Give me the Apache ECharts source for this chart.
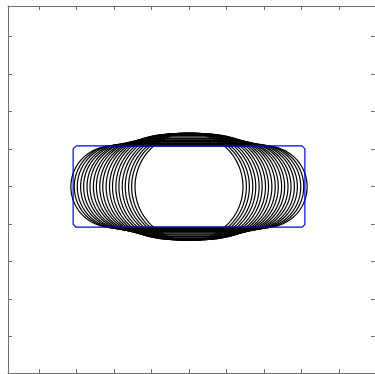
<!DOCTYPE html>
<html>
<head>
<meta charset="utf-8">
<script src="https://cdn.jsdelivr.net/npm/echarts@6/dist/echarts.min.js"></script>
<style>
  html, body { margin: 0; padding: 0; background: #fff; }
  #chart { width: 375px; height: 374px; }
</style>
</head>
<body>
<div id="chart"></div>
<script>
// outer half-width and half-height of each black curve (axis units)
const halfWidths = [1.44, 1.53, 1.61, 1.70, 1.78, 1.87, 1.95, 2.04, 2.12, 2.21, 2.30,
                    2.38, 2.47, 2.55, 2.64, 2.72, 2.81, 2.89, 2.98, 3.06, 3.15];
const halfHeights = [1.43, 1.43, 1.425, 1.42, 1.415, 1.41, 1.40, 1.385, 1.365, 1.33, 1.29,
                     1.265, 1.235, 1.21, 1.19, 1.165, 1.15, 1.135, 1.12, 1.105, 1.08];

// blue outline (chamfered rectangle)
const blueX = [-3.01, 3.01, 3.09, 3.09, 3.01, -3.01, -3.09, -3.09, -3.01];
const blueY = [1.09, 1.09, 1.01, -1.01, -1.08, -1.08, -1.00, 1.01, 1.09];

// tick positions
const xTicks = [-4, -3, -2, -1, 0, 1, 2, 3, 4];
const yTicks = [-4, -3, -2, -1, 0, 1, 2, 3, 4];

// stadium shaped curve: flat part plus round ends
function curvePoints(w, h) {
  const flat = w - h;
  const pts = [];
  const n = 60;
  for (let i = 0; i <= n; i++) {
    const a = -Math.PI / 2 + Math.PI * i / n;
    pts.push([flat + h * Math.cos(a), h * Math.sin(a)]);
  }
  for (let i = 0; i <= n; i++) {
    const a = Math.PI / 2 + Math.PI * i / n;
    pts.push([-flat + h * Math.cos(a), h * Math.sin(a)]);
  }
  pts.push(pts[0]);
  return pts;
}

const chart = echarts.init(document.getElementById("chart"));

const axisColor = "#6e6e6e";
const tickBase = {
  show: true, inside: true, length: 4,
  lineStyle: { color: axisColor, width: 1 }
};

const series = halfWidths.map((w, i) => ({
  type: "line",
  data: curvePoints(w, halfHeights[i]),
  showSymbol: false,
  symbol: "none",
  silent: true,
  lineStyle: { color: "#000", width: 1.2 }
}));

series.push({
  type: "line",
  data: blueX.map((x, i) => [x, blueY[i]]),
  showSymbol: false,
  symbol: "none",
  silent: true,
  lineStyle: { color: "#0000ff", width: 1.2 }
});

const xBase = {
  type: "value", min: -4.827, max: 4.96,
  axisLabel: { show: false },
  splitLine: { show: false },
  axisLine: { show: true, onZero: false, lineStyle: { color: axisColor, width: 1 } },
  axisTick: Object.assign({ customValues: xTicks }, tickBase)
};
const yBase = {
  type: "value", min: -4.968, max: 4.819,
  axisLabel: { show: false },
  splitLine: { show: false },
  axisLine: { show: true, onZero: false, lineStyle: { color: axisColor, width: 1 } },
  axisTick: Object.assign({ customValues: yTicks }, tickBase)
};

chart.setOption({
  animation: false,
  backgroundColor: "#fff",
  grid: { left: 8, top: 6, width: 367, height: 367 },
  xAxis: [
    Object.assign({ position: "bottom" }, xBase),
    Object.assign({ position: "top" }, xBase)
  ],
  yAxis: [
    Object.assign({ position: "left" }, yBase),
    Object.assign({ position: "right" }, yBase)
  ],
  series: series
});
</script>
</body>
</html>
